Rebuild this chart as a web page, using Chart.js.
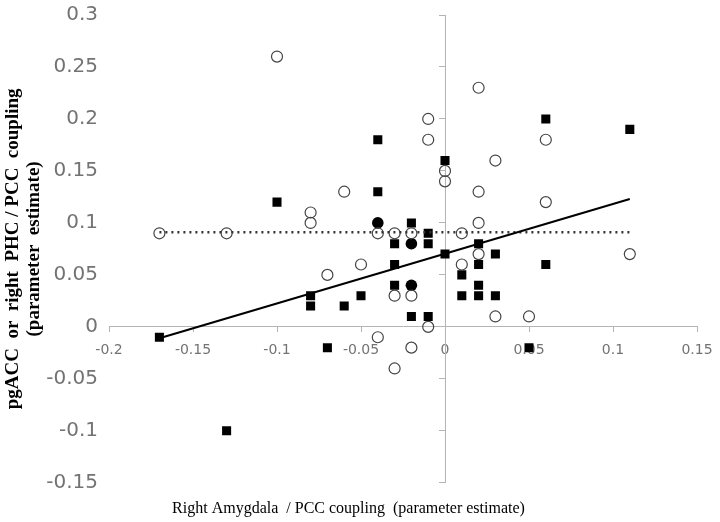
<!DOCTYPE html>
<html>
<head>
<meta charset="utf-8">
<script src="https://cdn.jsdelivr.net/npm/chart.js@4"></script>
<style>
  html, body { margin: 0; padding: 0; background: #fff; }
</style>
</head>
<body>
<canvas id="myChart" width="720" height="522"></canvas>
<script>
// open circles
const circleX = [-0.17, -0.13, -0.10, -0.08, -0.08, -0.07, -0.06, -0.05, -0.04, -0.04, -0.03, -0.03, -0.03,
   -0.02, -0.02, -0.02, -0.01, -0.01, -0.01, 0, 0, 0.01, 0.01, 0.02, 0.02, 0.02, 0.02, 0.03, 0.03, 0.05, 0.06, 0.06, 0.11];
const circleY = [0.09, 0.09, 0.26, 0.11, 0.10, 0.05, 0.13, 0.06, 0.09, -0.01, 0.09, 0.03, -0.04,
   0.09, 0.03, -0.02, 0.20, 0.18, 0.00, 0.15, 0.14, 0.09, 0.06, 0.23, 0.13, 0.10, 0.07, 0.16, 0.01, 0.01, 0.18, 0.12, 0.07];

// filled squares
const squareX = [-0.17, -0.13, -0.10, -0.08, -0.08, -0.07, -0.06, -0.05, -0.04, -0.04, -0.03, -0.03, -0.03, -0.02, -0.02,
   -0.01, -0.01, -0.01, 0, 0, 0.01, 0.01, 0.02, 0.02, 0.02, 0.02, 0.03, 0.03, 0.05, 0.06, 0.06, 0.11];
const squareY = [-0.01, -0.10, 0.12, 0.03, 0.02, -0.02, 0.02, 0.03, 0.18, 0.13, 0.08, 0.06, 0.04, 0.10, 0.01,
   0.09, 0.08, 0.01, 0.16, 0.07, 0.05, 0.03, 0.08, 0.06, 0.04, 0.03, 0.07, 0.03, -0.02, 0.20, 0.06, 0.19];

// filled circles
const dotX = [-0.04, -0.02, -0.02];
const dotY = [0.10, 0.08, 0.04];

// fitted line and dotted reference line
const fitX = [-0.17, 0.11];
const fitY = [-0.011, 0.123];
const refX = [-0.17, 0.11];
const refY = [0.091, 0.091];

const xTickValues = [-0.2, -0.15, -0.1, -0.05, 0, 0.05, 0.1, 0.15];
const xTickLabels = ['-0.2', '-0.15', '-0.1', '-0.05', '0', '0.05', '0.1', '0.15'];
const yTickValues = [-0.15, -0.1, -0.05, 0, 0.05, 0.1, 0.15, 0.2, 0.25, 0.3];
const yTickLabels = ['-0.15', '-0.1', '-0.05', '0', '0.05', '0.1', '0.15', '0.2', '0.25', '0.3'];

const xTitle = 'Right Amygdala  / PCC coupling  (parameter estimate)';
const yTitle = ['pgACC  or  right  PHC / PCC  coupling', '(parameter  estimate)'];

function pts(xs, ys) {
   return xs.map((x, i) => ({x: x, y: ys[i]}));
}

Chart.defaults.font.family = 'DejaVu Sans';

const axisColor = '#b4b4b4';
const tickColor = '#737373';

const config = {
   type: 'scatter',
   data: {
      datasets: [
         {
            label: 'fit',
            data: pts(fitX, fitY),
            showLine: true,
            borderColor: '#000',
            borderWidth: 2,
            pointRadius: 0
         },
         {
            label: 'reference',
            data: pts(refX, refY),
            showLine: true,
            borderColor: '#333',
            borderWidth: 2.5,
            borderDash: [2, 4],
            pointRadius: 0
         },
         {
            label: 'circles',
            data: pts(circleX, circleY),
            pointStyle: 'circle',
            pointRadius: 5.5,
            borderWidth: 1.2,
            borderColor: '#444',
            backgroundColor: 'rgba(0,0,0,0)'
         },
         {
            label: 'squares',
            data: pts(squareX, squareY),
            pointStyle: 'rect',
            pointRadius: 6.4,
            borderWidth: 0,
            backgroundColor: '#000'
         },
         {
            label: 'dots',
            data: pts(dotX, dotY),
            pointStyle: 'circle',
            pointRadius: 5.8,
            borderWidth: 0,
            backgroundColor: '#000'
         }
      ]
   },
   options: {
      responsive: false,
      animation: false,
      layout: {padding: {left: 0, right: 23, top: 0, bottom: 0}},
      plugins: {
         legend: {display: false},
         tooltip: {enabled: false},
         title: {
            display: true,
            position: 'bottom',
            text: xTitle,
            color: '#000',
            font: {family: 'Liberation Serif', size: 16, weight: 'normal'},
            padding: {top: 16, bottom: 4}
         }
      },
      scales: {
         x: {
            type: 'linear',
            position: {y: 0},
            min: -0.2,
            max: 0.15,
            afterBuildTicks: s => { s.ticks = xTickValues.map(v => ({value: v})); },
            afterFit: s => { s.paddingLeft = 0; s.paddingRight = 0; },
            grid: {drawOnChartArea: false, drawTicks: true, tickLength: 5, color: axisColor},
            border: {color: axisColor},
            ticks: {
               color: tickColor,
               font: {size: 14},
               padding: 10,
               maxRotation: 0,
               autoSkip: false,
               callback: (v, i) => xTickLabels[i]
            }
         },
         y: {
            type: 'linear',
            position: {x: 0},
            min: -0.15,
            max: 0.3,
            afterBuildTicks: s => { s.ticks = yTickValues.map(v => ({value: v})); },
            grid: {drawOnChartArea: false, drawTicks: true, tickLength: 6, color: axisColor},
            border: {color: axisColor},
            ticks: {display: false}
         },
         yl: {
            type: 'linear',
            position: 'left',
            min: -0.15,
            max: 0.3,
            afterBuildTicks: s => { s.ticks = yTickValues.map(v => ({value: v})); },
            afterFit: s => { s.width = 109; },
            grid: {display: false},
            border: {display: false},
            ticks: {
               color: tickColor,
               font: {size: 20},
               padding: 3,
               autoSkip: false,
               callback: (v, i) => yTickLabels[i]
            },
            title: {
               display: true,
               text: yTitle,
               color: '#000',
               font: {family: 'Liberation Serif', size: 19, weight: 'bold', lineHeight: 1.1},
               padding: {top: 3, bottom: 0}
            }
         }
      }
   }
};

const myChart = new Chart(document.getElementById('myChart'), config);
</script>
</body>
</html>
